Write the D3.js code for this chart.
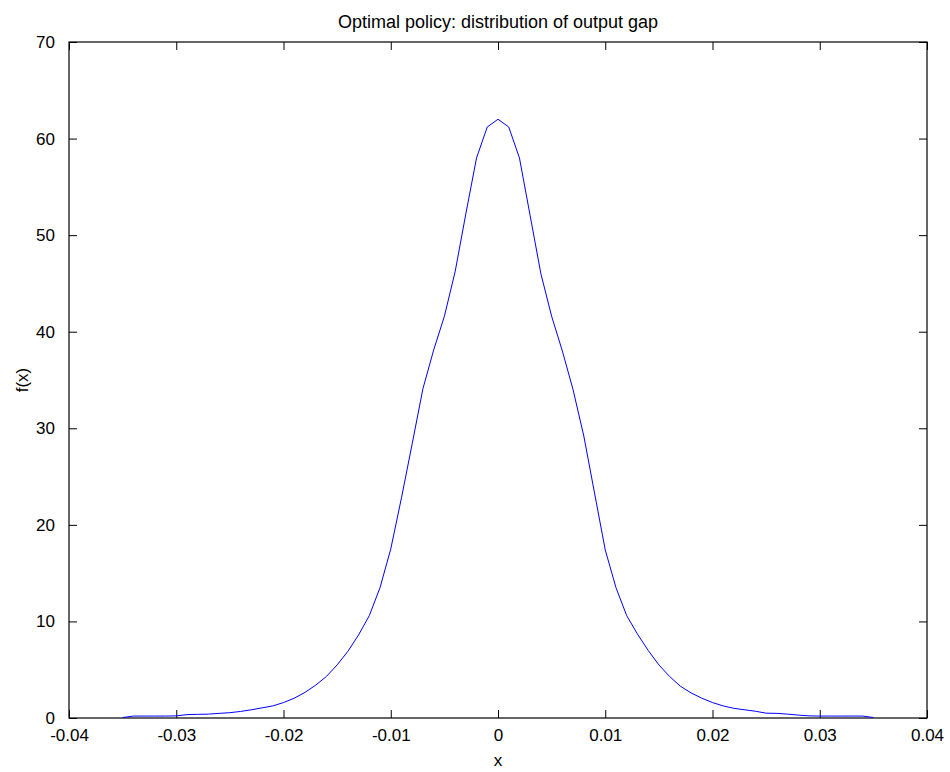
<!DOCTYPE html>
<html>
<head>
<meta charset="utf-8">
<script src="https://cdn.jsdelivr.net/npm/d3@7"></script>
<style>
  body { margin: 0; background: #fff; }
  text { font-family: "Liberation Sans", Arial, sans-serif; fill: #000; }
</style>
</head>
<body>
<div id="chart"></div>
<script>
// grid of x values (output gap) and estimated density
const xValues = d3.range(-35, 36).map(k => k / 1000);
const density = [
    0.05, 0.2, 0.2, 0.2, 0.2, 0.22, 0.35, 0.38, 0.4, 0.48,
    0.55, 0.68, 0.85, 1.05, 1.25, 1.6, 2.05, 2.65, 3.4, 4.3,
    5.5, 6.9, 8.6, 10.6, 13.5, 17.5, 22.8, 28.4, 34.1, 38.1,
    41.6, 46.2, 52.2, 58.0, 61.2, 62.0, 61.2, 58.0, 52.0, 46.0,
    41.6, 38.0, 34.0, 29.2, 23.3, 17.4, 13.5, 10.6, 8.7, 7.0,
    5.5, 4.3, 3.3, 2.6, 2.05, 1.6, 1.25, 1.0, 0.85, 0.7,
    0.5, 0.48, 0.4, 0.3, 0.22, 0.2, 0.2, 0.2, 0.2, 0.2,
    0.05
];
const xTicks = [-0.04, -0.03, -0.02, -0.01, 0, 0.01, 0.02, 0.03, 0.04];
const yTicks = [0, 10, 20, 30, 40, 50, 60, 70];

const width = 950, height = 772;
const margin = { top: 42, right: 23, bottom: 54, left: 69 };
const innerW = width - margin.left - margin.right;
const innerH = height - margin.top - margin.bottom;

const svg = d3.select('#chart').append('svg')
    .attr('width', width)
    .attr('height', height);

const g = svg.append('g')
    .attr('transform', `translate(${margin.left},${margin.top})`);

const x = d3.scaleLinear().domain([-0.04, 0.04]).range([0, innerW]);
const y = d3.scaleLinear().domain([0, 70]).range([innerH, 0]);

const fmtX = d => d === 0 ? '0' : d3.format('.2f')(d).replace('−', '-');

// axes: ticks point inward, mirrored on top/right like matlab
const tickLen = 8;
const bottomAxis = d3.axisBottom(x).tickValues(xTicks).tickSizeInner(-tickLen).tickSizeOuter(0)
    .tickPadding(11).tickFormat(fmtX);
const leftAxis = d3.axisLeft(y).tickValues(yTicks).tickSizeInner(-tickLen).tickSizeOuter(0)
    .tickPadding(14).tickFormat(d3.format('d'));
const topAxis = d3.axisTop(x).tickValues(xTicks).tickSizeInner(-tickLen).tickSizeOuter(0).tickFormat('');
const rightAxis = d3.axisRight(y).tickValues(yTicks).tickSizeInner(-tickLen).tickSizeOuter(0).tickFormat('');

g.append('g').attr('transform', `translate(0,${innerH})`).call(bottomAxis);
g.append('g').call(leftAxis);
g.append('g').call(topAxis);
g.append('g').attr('transform', `translate(${innerW},0)`).call(rightAxis);

g.selectAll('.domain').remove();
g.selectAll('.tick line').attr('stroke', '#000');
g.selectAll('.tick text')
    .style('font-size', '17px')
    .style('font-family', '"Liberation Sans", Arial, sans-serif');

// box
g.append('rect')
    .attr('width', innerW)
    .attr('height', innerH)
    .attr('fill', 'none')
    .attr('stroke', '#000')
    .attr('stroke-width', 1.2);

// density line
const line = d3.line()
    .x((d, i) => x(xValues[i]))
    .y(d => y(d));

g.append('path')
    .datum(density)
    .attr('fill', 'none')
    .attr('stroke', '#0000ff')
    .attr('stroke-width', 1)
    .attr('d', line);

// labels
svg.append('text')
    .attr('x', margin.left + innerW / 2)
    .attr('y', 28)
    .attr('text-anchor', 'middle')
    .style('font-size', '18px')
    .text('Optimal policy: distribution of output gap');

svg.append('text')
    .attr('x', margin.left + innerW / 2)
    .attr('y', 766)
    .attr('text-anchor', 'middle')
    .style('font-size', '17px')
    .text('x');

svg.append('text')
    .attr('transform', `translate(28,${margin.top + innerH / 2}) rotate(-90)`)
    .attr('text-anchor', 'middle')
    .style('font-size', '17px')
    .text('f(x)');
</script>
</body>
</html>
